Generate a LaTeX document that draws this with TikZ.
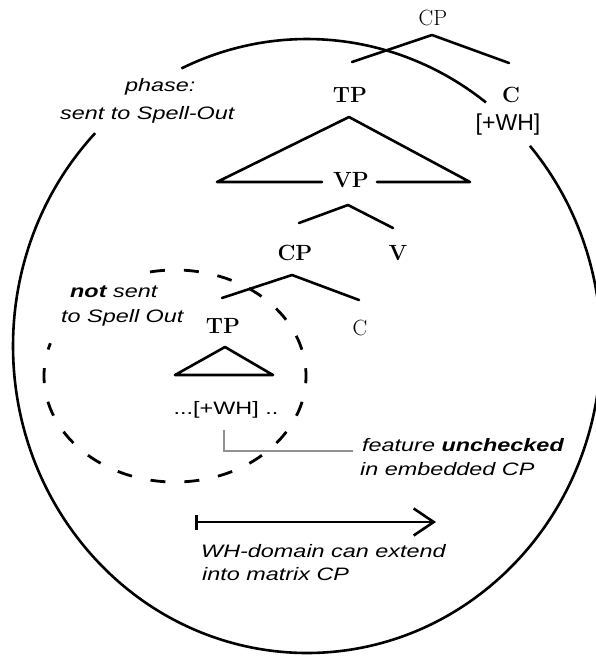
\documentclass[tikz,border=0pt]{standalone}
\usepackage{fontspec}
\newfontfamily\annot[FakeStretch=1.3]{Liberation Sans}
\newfontfamily\plainsans{Liberation Sans}
\usetikzlibrary{arrows.meta}
\definecolor{connector}{RGB}{145,145,145}
\tikzset{
  tree/.style={line width=2.6pt, line cap=round, line join=round},
  ring/.style={line width=2.6pt},
  dashring/.style={line width=2.8pt, dash pattern=on 15pt off 19pt},
  cat/.style={font=\fontsize{22}{26}\selectfont\bfseries, inner sep=0pt, anchor=base},
  catreg/.style={font=\fontsize{22}{26}\selectfont, inner sep=0pt, anchor=base},
  note/.style={font=\annot\itshape\fontsize{18}{22}\selectfont, inner sep=0pt, anchor=base west},
  feat/.style={inner sep=0pt, anchor=base},
}
\begin{document}
\begin{tikzpicture}[x=1pt,y=-1pt]
\useasboundingbox (0,0) rectangle (595,656);

% big phase ellipse (with gaps for the labels)
\coordinate (E) at (307,346);
\draw[ring] (E) ++(-115.3:294 and 307) arc[start angle=-115.3, end angle=-52.5, x radius=294, y radius=307];
\draw[ring] (E) ++(-40.7:294 and 307) arc[start angle=-40.7, end angle=223.9, x radius=294, y radius=307];

% dashed ellipse
\coordinate (D) at (175,376);
\draw[dashring] (D) ++(-101:131 and 106) arc[start angle=-101, end angle=198, x radius=131, y radius=106];

% matrix CP
\node[catreg] (cp1) at (433,25) {CP};
\coordinate (cp1apex) at (432,35);
\coordinate (cp1l) at (352,62);
\coordinate (cp1r) at (509,63);
\draw[tree] (cp1l) -- (cp1apex) -- (cp1r);

\node[cat] (tp1) at (350,102) {TP};
\node[cat] (c1) at (511,102) {C};
\node[feat, font=\plainsans\fontsize{23}{26}\selectfont] (wh1) at (508,130) {[+WH]};

% TP triangle with VP on its base
\coordinate (tri1a) at (349,117);
\coordinate (tri1l) at (217,182);
\coordinate (tri1r) at (470,182);
\coordinate (tri1m1) at (322,182);
\coordinate (tri1m2) at (377,182);
\draw[tree] (tri1m1) -- (tri1l) -- (tri1a) -- (tri1r) -- (tri1m2);
\node[cat] (vp) at (351,187) {VP};

% VP branches
\coordinate (vpapex) at (348,205);
\coordinate (vpl) at (299,223);
\coordinate (vpr) at (393,228);
\draw[tree] (vpl) -- (vpapex) -- (vpr);
\node[cat] (cp2) at (295,260) {CP};
\node[cat] (v) at (398,260) {V};

% embedded CP branches
\coordinate (cp2apex) at (292,275);
\coordinate (cp2l) at (222,298);
\coordinate (cp2r) at (359,300);
\draw[tree] (cp2l) -- (cp2apex) -- (cp2r);
\node[cat] (tp2) at (223,333) {TP};
\node[catreg] (c2) at (360,335) {C};

% small triangle
\coordinate (tri2a) at (225,347);
\coordinate (tri2l) at (175,375);
\coordinate (tri2r) at (273,375);
\draw[tree] (tri2a) -- (tri2l) -- (tri2r) -- cycle;
\node[feat, font=\annot\fontsize{18}{22}\selectfont] (wh2) at (226,414) {...[+WH] ..};

% gray connector
\coordinate (g1) at (224,430);
\coordinate (g2) at (224,451);
\coordinate (g3) at (353,451);
\draw[connector, line width=2.6pt] (g1) -- (g2) -- (g3);

% annotations
\node[note] (ph1) at (125,91) {phase:};
\node[note] (ph2) at (60,119) {sent to Spell-Out};
\node[note] (ns1) at (70,297) {\textbf{not} sent};
\node[note] (ns2) at (61,322) {to Spell Out};
\node[note] (fu1) at (362,451) {feature \textbf{unchecked}};
\node[note] (fu2) at (360,475) {in embedded CP};
\node[note] (wd1) at (201,557) {WH-domain can extend};
\node[note] (wd2) at (202,580) {into matrix CP};

% WH-domain arrow
\coordinate (arS) at (195,522);
\coordinate (arE) at (436,522);
\draw[line width=2.6pt, {Bar[width=15pt]}-{Straight Barb[length=20pt,width=27pt]}] (arS) -- (arE);
\end{tikzpicture}
\end{document}
